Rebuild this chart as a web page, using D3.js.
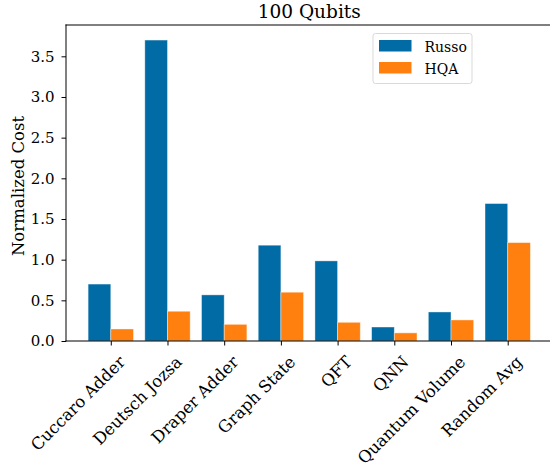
<!DOCTYPE html>
<html>
<head>
<meta charset="utf-8">
<script src="https://cdn.jsdelivr.net/npm/d3@7"></script>
<style>
  body { margin: 0; background: #fff; }
  svg text { font-family: "DejaVu Serif", "Liberation Serif", serif; fill: #000; }
</style>
</head>
<body>
<svg id="chart" width="550" height="471"></svg>
<script>

var categories = ['Cuccaro Adder', 'Deutsch Jozsa', 'Draper Adder', 'Graph State',
                  'QFT', 'QNN', 'Quantum Volume', 'Random Avg'];
var russo = [0.70, 3.70, 0.567, 1.178, 0.985, 0.172, 0.357, 1.69];
var hqa = [0.148, 0.366, 0.205, 0.60, 0.23, 0.10, 0.259, 1.21];
var series_names = ['Russo', 'HQA'];
var series_colors = ['#006BA4', '#FF800E'];
var y_ticks = [0, 0.5, 1.0, 1.5, 2.0, 2.5, 3.0, 3.5];

var svg = d3.select('#chart');

var left = 66,
    top_ = 25,
    bottom = 341,
    right = 552.5;

// index-based scale like matplotlib, bars at i-0.4..i and i..i+0.4
var x = d3.scaleLinear()
    .domain([-0.79, categories.length - 1 + 0.79])
    .range([left, right]);

var y = d3.scaleLinear()
    .domain([0, 3.885])
    .range([bottom, top_]);

var bar_w = 0.4;

var series = [russo, hqa];

series.forEach(function (vals, s) {
    svg.append('g')
        .selectAll('rect')
        .data(vals)
        .enter()
        .append('rect')
        .attr('x', function (d, i) { return x(i - bar_w + s * bar_w); })
        .attr('y', function (d) { return y(d); })
        .attr('width', x(bar_w) - x(0))
        .attr('height', function (d) { return y(0) - y(d); })
        .attr('fill', series_colors[s])
        .attr('stroke', '#ffffff')
        .attr('stroke-opacity', 0.5)
        .attr('stroke-width', 0.8);
});

// axes
var y_axis = d3.axisLeft(y)
    .tickValues(y_ticks)
    .tickFormat(d3.format('.1f'))
    .tickSize(4.5)
    .tickPadding(7);

var gy = svg.append('g')
    .attr('transform', 'translate(' + left + ',0)')
    .call(y_axis);
gy.select('.domain').remove();
gy.selectAll('text').style('font-size', '15px');

var x_axis = d3.axisBottom(x)
    .tickValues(d3.range(categories.length))
    .tickFormat(function (i) { return categories[i]; })
    .tickSize(4.5);

var gx = svg.append('g')
    .attr('transform', 'translate(0,' + bottom + ')')
    .call(x_axis);
gx.select('.domain').remove();
gx.selectAll('text')
    .style('font-size', '16.5px')
    .attr('text-anchor', 'end')
    .attr('dy', null)
    .attr('x', 0)
    .attr('y', 0)
    .attr('transform', 'translate(15,22) rotate(-45)');

// spines (right one falls outside the picture)
var spines = [
    [left, top_, left, bottom],
    [left, top_, right, top_],
    [left, bottom, right, bottom]
];
svg.append('g')
    .selectAll('line')
    .data(spines)
    .enter()
    .append('line')
    .attr('x1', function (d) { return d[0]; })
    .attr('y1', function (d) { return d[1]; })
    .attr('x2', function (d) { return d[2]; })
    .attr('y2', function (d) { return d[3]; })
    .attr('stroke', '#000')
    .attr('stroke-width', 1)
    .attr('stroke-linecap', 'square');

// title and label
svg.append('text')
    .attr('x', (left + right) / 2)
    .attr('y', 17.5)
    .attr('text-anchor', 'middle')
    .style('font-size', '18.5px')
    .text('100 Qubits');

svg.append('text')
    .attr('transform', 'translate(24,' + ((top_ + bottom) / 2 + 3) + ') rotate(-90)')
    .attr('text-anchor', 'middle')
    .style('font-size', '16.5px')
    .text('Normalized Cost');

// legend
var legend = svg.append('g').attr('transform', 'translate(373,33.5)');
legend.append('rect')
    .attr('width', 99)
    .attr('height', 50)
    .attr('rx', 2.5)
    .attr('fill', '#fff')
    .attr('fill-opacity', 0.8)
    .attr('stroke', '#d9d9d9')
    .attr('stroke-width', 1);

var items = legend.selectAll('.item')
    .data(series_names)
    .enter()
    .append('g')
    .attr('transform', function (d, i) { return 'translate(6,' + (6.5 + i * 22) + ')'; });

items.append('rect')
    .attr('width', 32.5)
    .attr('height', 11.5)
    .attr('fill', function (d, i) { return series_colors[i]; });

items.append('text')
    .attr('x', 45.5)
    .attr('y', 11.5)
    .style('font-size', '14px')
    .text(function (d) { return d; });

</script>
</body>
</html>
